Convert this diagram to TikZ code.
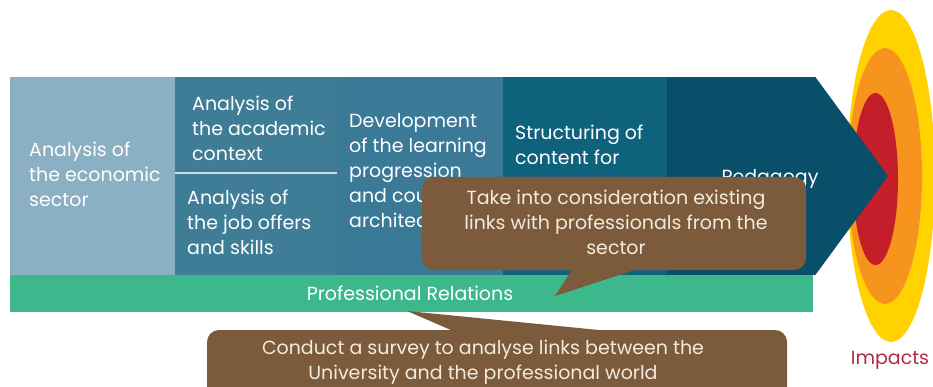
\documentclass[tikz,border=0pt]{standalone}
\usepackage{fontspec}
\setmainfont{Poppins}
\usetikzlibrary{shapes.geometric, calc}

\definecolor{colA}{HTML}{8BAFC3}
\definecolor{colB}{HTML}{3F7D96}
\definecolor{colC}{HTML}{3A7A97}
\definecolor{colD}{HTML}{0E627C}
\definecolor{colE}{HTML}{0A4F69}
\definecolor{relGreen}{HTML}{3DB88C}
\definecolor{tipBrown}{HTML}{7B5B3B}
\definecolor{tipText}{HTML}{F3EBDD}
\definecolor{impYellow}{HTML}{FFD200}
\definecolor{impOrange}{HTML}{F7941E}
\definecolor{impRed}{HTML}{C41E2A}
\definecolor{impText}{HTML}{B5283C}

\begin{document}
\begin{tikzpicture}[x=1pt, y=-1pt]
	\tikzstyle{column} = [rectangle, inner sep=0, minimum height=198pt]
	\tikzstyle{coltext} = [anchor=west, align=left, inner sep=0, text=white, font=\fontsize{19}{25}\selectfont]
	\tikzstyle{ring} = [ellipse, inner sep=0]
	\tikzstyle{bubble} = [rectangle, rounded corners=12pt, fill=tipBrown, inner sep=0]
	\tikzstyle{bubbletext} = [align=center, inner sep=0, text=tipText, font=\fontsize{19}{25}\selectfont]

	\useasboundingbox (0, 0) rectangle (933, 387);
	\clip (0, 0) rectangle (933, 387);

	\foreach \index/\xc/\yc/\bw/\bh/\col in {1/891/176/88/332/impYellow, 2/885/176/74/256/impOrange, 3/875.5/179/45/172/impRed} {
		\node[ring, fill=\col, minimum width=\bw pt, minimum height=\bh pt] (ring-\index) at (\xc, \yc) {};
	}
	\node[text=impText, font=\fontsize{19}{25}\selectfont] (impacts) at (890, 360) {Impacts};

	\foreach \index/\xc/\bw/\col in {1/92.5/165/colA, 2/256/162/colB, 3/420/166/colC, 4/585/164/colD, 5/741/148/colE} {
		\node[column, fill=\col, minimum width=\bw pt] (col-\index) at (\xc, 176) {};
	}
	\fill[colE] (col-5.north east) -- (888, 176) -- (col-5.south east) -- cycle;
	\draw[line width=1.5pt, white!75!colB] (col-2.west |- 0, 173) -- (col-2.east |- 0, 173);

	\node[coltext] (T-1) at (29, 174) {Analysis of\\the economic\\sector};
	\node[coltext] (T-2a) at (192, 128) {Analysis of\\the academic\\context};
	\node[coltext] (T-2b) at (187, 222.5) {Analysis of\\the job offers\\and skills};
	\node[coltext] (T-3) at (349, 171) {Development\\of the learning\\progression\\and course\\architecture};
	\node[coltext] (T-4) at (515, 145) {Structuring of\\content for};
	\node[coltext, anchor=center] (T-5) at (770, 179) {Pedagogy};

	\node[rectangle, fill=relGreen, inner sep=0, minimum width=803pt, minimum height=37pt] (relations) at (411.5, 293.5) {};
	\node[text=white, inner sep=0, font=\fontsize{19}{25}\selectfont] (relations-text) at (410, 293) {Professional Relations};

	\coordinate (tip-a) at (555, 296);
	\node[bubble, minimum width=384pt, minimum height=93pt] (links) at (614, 223.5) {};
	\fill[tipBrown] ([xshift=-41pt, yshift=2pt]links.south) -- (tip-a) -- ([xshift=26pt, yshift=2pt]links.south) -- cycle;
	\node[bubbletext] (links-text) at (616, 222) {Take into consideration existing\\links with professionals from the\\sector};

	\coordinate (tip-b) at (407, 311);
	\node[bubble, minimum width=580pt, minimum height=80pt] (survey) at (497, 370) {};
	\fill[tipBrown] ([xshift=-42pt, yshift=-2pt]survey.north) -- (tip-b) -- ([xshift=120pt, yshift=-2pt]survey.north) -- cycle;
	\node[bubbletext] (survey-text) at (483, 362) {Conduct a survey to analyse links between the\\University and the professional world};
\end{tikzpicture}
\end{document}
